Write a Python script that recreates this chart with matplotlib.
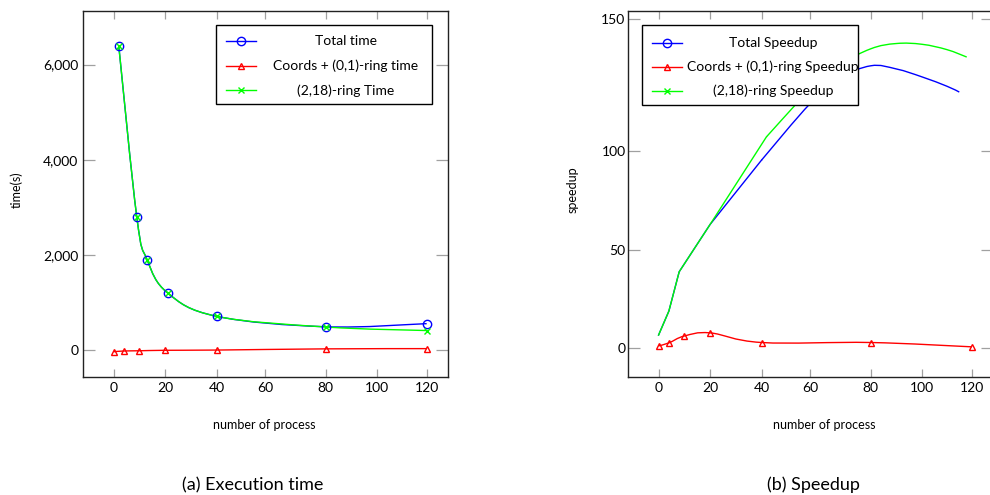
import numpy as np
import matplotlib
matplotlib.use('Agg')
import matplotlib.pyplot as plt
from matplotlib.path import Path
from matplotlib.patches import PathPatch, Rectangle
from matplotlib.ticker import FuncFormatter

plt.rcParams['font.family'] = ['Lato', 'DejaVu Sans']

# (a) execution time in seconds
total_x = [2, 9, 13, 21, 40, 80, 120]
total_t = [6400, 2800, 1900, 1200, 710, 490, 555]
ring_x = [2, 9, 13, 21, 40, 80, 120]
ring_t = [6400, 2800, 1900, 1200, 710, 485, 410]
coords_x = [0, 4, 10, 20, 40, 80, 120]
coords_t = [-35, -20, -15, -5, 0, 25, 30]

# (b) speedup
sp_total_x = [0, 4, 8, 20, 40, 60, 70, 80, 90, 100, 110, 115]
sp_total = [6.8, 19, 39, 63, 95.5, 118, 127.5, 132.2, 131, 128, 124.5, 122.3]
sp_ring_x = [0, 4, 8, 20, 42, 55, 60, 70, 80, 90, 100, 110, 118]
sp_ring = [6.8, 19, 39, 63, 105.4, 118.6, 123.4, 132.6, 138.6, 140.6, 140.3, 138.3, 135.5]
sp_coords_x = [0, 4, 10, 20, 40, 80, 120]
sp_coords = [1.3, 2.8, 6.3, 7.9, 3.0, 3.0, 0.8]

x_ticks = [0, 20, 40, 60, 80, 100, 120]
time_ticks = [0, 2000, 4000, 6000]
speed_ticks = [0, 50, 100, 150]

# the original axes are not evenly spaced: where each tick sits (relative px)
x_tick_pos = [0, 51.5, 102.9, 151.6, 212, 263.4, 312.9]
speed_tick_pos = [0, 98.3, 197.3, 330]


def warp(vals, pos):
    vals = np.asarray(vals, float)
    pos = np.asarray(pos, float)
    lo = (pos[1] - pos[0]) / (vals[1] - vals[0])
    hi = (pos[-1] - pos[-2]) / (vals[-1] - vals[-2])
    v = np.r_[vals[0] - 1e4, vals, vals[-1] + 1e4]
    p = np.r_[pos[0] - 1e4 * lo, pos, pos[-1] + 1e4 * hi]
    return (lambda a: np.interp(a, v, p)), (lambda b: np.interp(b, p, v))


def smooth(ax, x, y, color, t=0.55):
    # pgfplots-like smooth curve, built in the axes' scaled space
    pts = ax.transScale.transform(np.column_stack([x, y]).astype(float))
    n = len(pts)
    verts, codes = [pts[0]], [Path.MOVETO]
    for i in range(n - 1):
        p0, p1 = pts[max(i - 1, 0)], pts[i]
        p2, p3 = pts[i + 1], pts[min(i + 2, n - 1)]
        verts += [p1 + (p2 - p0) * t / 3, p2 - (p3 - p1) * t / 3, p2]
        codes += [Path.CURVE4] * 3
    ax.add_patch(PathPatch(Path(verts, codes), fill=False, edgecolor=color,
                           lw=1.0, zorder=2,
                           transform=ax.transLimits + ax.transAxes))


marker_size = {'o': 6, '^': 5, 'x': 4}


def legend(ax, box, rows, entries, text_x):
    x0, x1, y0, y1 = box
    ax.add_patch(Rectangle((x0, y0), x1 - x0, y1 - y0, transform=ax.transAxes,
                           facecolor='white', edgecolor='black', lw=1.0,
                           zorder=5, clip_on=False))
    for yy, (label, color, marker) in zip(rows, entries):
        hx = [x0 + 0.028, x0 + 0.11]
        ax.plot(hx, [yy, yy], color=color, lw=1.0, transform=ax.transAxes,
                zorder=6, clip_on=False)
        ax.plot([np.mean(hx)], [yy], color=color, marker=marker, mfc='none',
                ms=marker_size[marker], mew=1.0, transform=ax.transAxes,
                zorder=6, clip_on=False)
        ax.text(text_x, yy, label, ha='center', va='center', fontsize=10,
                transform=ax.transAxes, zorder=7)


fig = plt.figure(figsize=(9.9, 4.95), dpi=100)
ax1 = fig.add_axes([0.0835, 0.239, 0.369, 0.739])
ax2 = fig.add_axes([0.634, 0.239, 0.369, 0.739])

for ax in (ax1, ax2):
    ax.set_xscale('function', functions=warp(x_ticks, x_tick_pos))
    ax.set_xlim(-12, 128.6)
    ax.set_xticks(x_ticks)
    ax.set_xticklabels([str(v) for v in x_ticks])
    ax.tick_params(direction='in', color='#a0a0a0', width=0.9, labelsize=10,
                   top=True, right=True)
    ax.tick_params(axis='x', length=6, pad=4)
    ax.tick_params(axis='y', length=8.5, pad=3)
    for s in ax.spines.values():
        s.set_color('#222222')
        s.set_linewidth(1.0)
    ax.set_xlabel('number of process', fontsize=9)

# (a) execution time
ax1.set_ylim(-560, 7130)
smooth(ax1, total_x, total_t, 'blue')
smooth(ax1, coords_x, coords_t, 'red')
smooth(ax1, ring_x, ring_t, '#00ff00')
ax1.plot(total_x, total_t, 'o', color='blue', mfc='none', ms=6, mew=1.0, zorder=3)
ax1.plot(coords_x, coords_t, '^', color='red', mfc='none', ms=5, mew=1.0, zorder=3)
ax1.plot(ring_x, ring_t, 'x', color='#00ff00', ms=4, mew=1.0, zorder=3)
ax1.set_yticks(time_ticks)
ax1.yaxis.set_major_formatter(FuncFormatter(lambda v, p: f'{v:,.0f}'))
ax1.set_ylabel('time(s)', fontsize=9)
ax1.yaxis.set_label_coords(-0.163, 0.51)
ax1.xaxis.set_label_coords(0.496, -0.117)
legend(ax1, (0.365, 0.956, 0.745, 0.961), [0.918, 0.850, 0.783],
       [('Total time', 'blue', 'o'),
        ('Coords + (0,1)-ring time', 'red', '^'),
        ('(2,18)-ring Time', '#00ff00', 'x')], 0.72)

# (b) speedup: straight segments up to ~40 processes, smooth arc after
ax2.set_yscale('function', functions=warp(speed_ticks, speed_tick_pos))
ax2.set_ylim(-14.4, 152.9)
ax2.plot(sp_total_x[:5], sp_total[:5], color='blue', lw=1.0, zorder=2)
smooth(ax2, sp_total_x[4:], sp_total[4:], 'blue')
ax2.plot(sp_ring_x[:5], sp_ring[:5], color='#00ff00', lw=1.0, zorder=2)
smooth(ax2, sp_ring_x[4:], sp_ring[4:], '#00ff00')
smooth(ax2, sp_coords_x, sp_coords, 'red')
ax2.plot(sp_coords_x, sp_coords, '^', color='red', mfc='none', ms=5, mew=1.0, zorder=3)
ax2.set_yticks(speed_ticks)
ax2.set_yticklabels([str(v) for v in speed_ticks])
ax2.tick_params(axis='y', pad=1.5)
ax2.set_ylabel('speedup', fontsize=9)
ax2.yaxis.set_label_coords(-0.135, 0.51)
ax2.xaxis.set_label_coords(0.539, -0.117)
legend(ax2, (0.038, 0.630, 0.742, 0.961), [0.913, 0.847, 0.781],
       [('Total Speedup', 'blue', 'o'),
        ('Coords + (0,1)-ring Speedup', 'red', '^'),
        ('(2,18)-ring Speedup', '#00ff00', 'x')], 0.398)

fig.text(252.5 / 990, 1 - 485 / 495, '(a) Execution time', ha='center',
         va='center', fontsize=13)
fig.text(813.8 / 990, 1 - 485 / 495, '(b) Speedup', ha='center',
         va='center', fontsize=13)

fig.savefig('out.png', dpi=100)
